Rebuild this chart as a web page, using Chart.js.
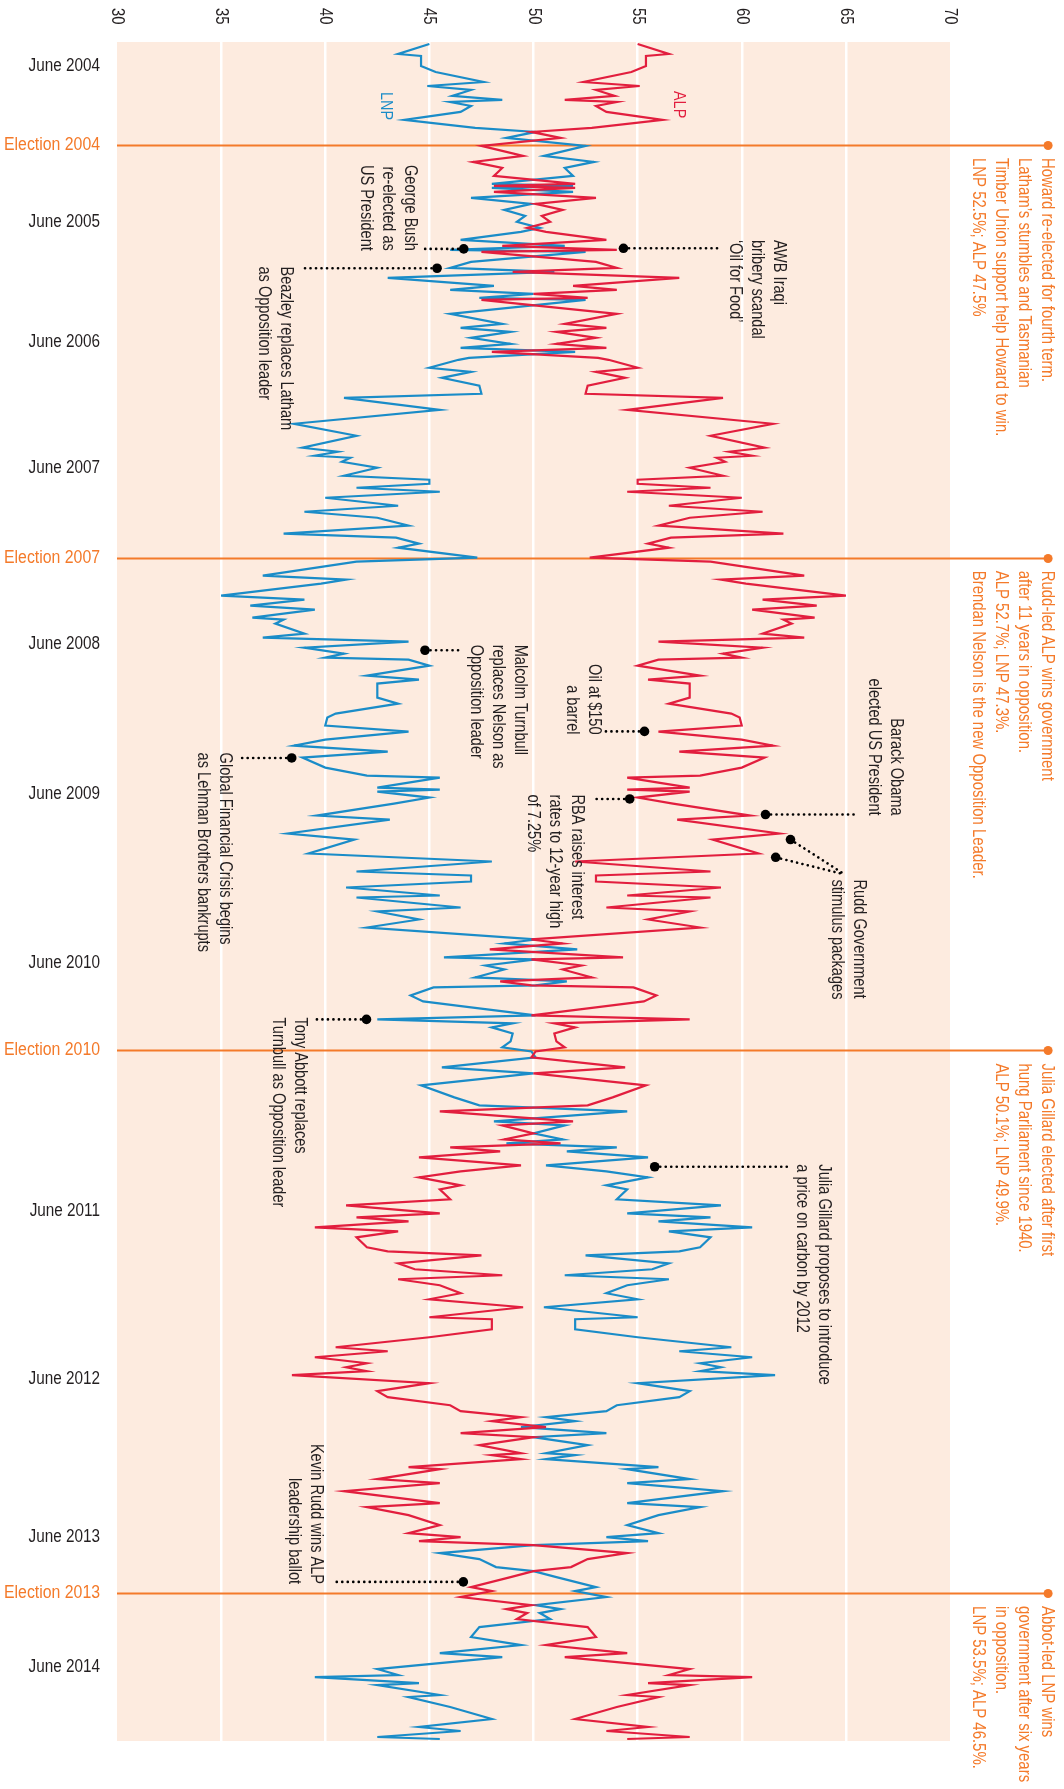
<!DOCTYPE html>
<html>
<head>
<meta charset="utf-8">
<script src="https://cdn.jsdelivr.net/npm/chart.js@4.4.1/dist/chart.umd.min.js"></script>
<style>
    body { margin: 0; background: #fff; }
    #wrap { width: 1064px; height: 1789px; }
</style>
</head>
<body>
<div id="wrap"><canvas id="pollChart" width="1064" height="1789"></canvas></div>

<script>
// two-party preferred vote, one entry per poll; seq = poll sequence number (top to bottom)
const seq = [1,6,7,12,15,20,22,24,27,29, 30,32,35,39,43,45,48,52,57,60, 63,67,71,72,73,75,78,81,84,87,
    90,93,95,99,102,104,105,110,113,115, 118,122,124,126,128,129,133,136,141,143, 145,148,151,153,155,158,159,163,165,168,
    172,176,178,184,191,197,203,205,207,208, 210,213,217,219,221,223,225,228,232,235, 238,242,246,248,251,253,258,260,267,269,
    271,277,279,282,284,288,289,291,296,298, 300,303,306,308,309,312,317,319,321,328, 331,336,338,342,345,349,352,355,358,363,
    367,368,373,374,375,378,381,387,389,396, 399,406,410,415,417,420,423,427,428,433, 435,439,443,449,451,454,458,459,462,464,
    468,470,472,473,477,480,483,487,489,491, 493,496,500,503,505,508,513,516,522,528, 532,535,540,542,546,549,551,553,555,558,
    562,565,568,572,574,579,582,586,588,590, 593,595,598,603,605,607,611,614,617,619, 622,626,629,633,638,639,644,648,653,655,
    658,661,663,665,667,671,675,678,682,685, 688,690,693,696,698,702,706,707,709,713, 714,719,721,725,731,733,737,742,746,748,
    750,752,756,759,763,765,768,773,775,778, 782,784,786,789,793,798,802,806,808,814, 817,818,821,822,827,828,833,839,843,845,
    848,849];

const lnp = [45.0,43.5,44.6,44.6,45.3,47.6,44.9,47.0,46.1,48.5, 46.0,47.0,46.5,43.8,47.2,50.1,48.7,52.5,50.5,52.9, 51.5,51.9,48.0,51.9,48.0,51.9,47.0,49.9,48.6,49.6,
    49.2,50.3,49.4,46.5,51.5,46.0,52.5,47.0,46.0,51.0, 43.0,48.1,46.0,50.0,47.4,52.5,48.8,46.0,48.5,46.5, 48.9,47.0,48.9,46.5,52.0,46.9,46.4,45.0,47.0,45.6,
    47.4,47.5,40.9,45.5,38.5,41.5,38.9,40.6,39.5,41.2, 40.8,42.5,40.9,45.0,45.0,41.5,45.5,40.0,43.5,39.0, 42.5,44.0,38.0,43.4,44.5,43.5,47.3,41.5,37.0,41.0,
    39.8,35.0,39.0,36.4,39.5,36.5,38.0,37.6,39.0,37.0, 44.0,39.0,40.9,40.0,44.0,45.0,42.0,44.5,42.5,42.5, 43.5,40.5,40.1,40.0,44.0,40.0,38.5,43.0,38.9,40.0,
    42.0,45.5,42.5,45.5,42.5,45.0,43.3,39.6,43.1,38.2, 41.4,39.2,48.0,41.5,47.0,47.0,41.0,45.5,41.5,46.5, 42.5,44.5,42.0,50.1,48.6,52.1,45.7,50.1,47.7,48.6,
    47.2,51.6,50.1,45.2,44.1,44.7,47.0,50.1,42.5,49.0, 48.0,49.0,48.9,48.5,49.9,50.1,45.6,50.0,44.6,46.2, 47.4,54.5,48.1,51.5,50.0,51.4,48.7,54.0,51.6,55.5,
    50.6,53.5,55.5,53.5,54.5,54.0,59.0,54.5,58.5,56.0, 60.5,56.5,58.5,58.0,57.0,52.5,56.5,55.7,51.5,56.5, 54.5,53.5,55.0,50.5,55.0,52.0,52.0,55.0,59.5,57.0,
    60.5,58.0,59.0,58.0,61.6,55.0,57.5,57.0,54.0,53.5, 50.6,52.0,49.4,53.5,50.0,52.6,50.6,52.0,50.6,56.0, 54.5,57.5,54.5,59.1,54.5,58.0,56.0,54.5,56.0,53.5,
    55.5,50.0,45.5,47.4,48.2,50.0,51.1,53.0,52.0,53.5, 50.1,51.3,50.3,50.8,47.4,47.0,49.4,45.5,48.5,42.5, 43.5,39.5,44.5,42.5,45.5,44.0,46.0,48.0,44.5,46.5,
    42.5,45.5];

const alp = [55.0,56.5,55.4,55.4,54.7,52.4,55.1,53.0,53.9,51.5, 54.0,53.0,53.5,56.2,52.8,49.9,51.3,47.5,49.5,47.1, 48.5,48.1,52.0,48.1,52.0,48.1,53.0,50.1,51.4,50.4,
    50.8,49.7,50.6,53.5,48.5,54.0,47.5,53.0,54.0,49.0, 57.0,51.9,54.0,50.0,52.6,47.5,51.2,54.0,51.5,53.5, 51.1,53.0,51.1,53.5,48.0,53.1,53.6,55.0,53.0,54.4,
    52.6,52.5,59.1,54.5,61.5,58.5,61.1,59.4,60.5,58.8, 59.2,57.5,59.1,55.0,55.0,58.5,54.5,60.0,56.5,61.0, 57.5,56.0,62.0,56.6,55.5,56.5,52.7,58.5,63.0,59.0,
    60.2,65.0,61.0,63.6,60.5,63.5,62.0,62.4,61.0,63.0, 56.0,61.0,59.1,60.0,56.0,55.0,58.0,55.5,57.5,57.5, 56.5,59.5,59.9,60.0,56.0,60.0,61.5,57.0,61.1,60.0,
    58.0,54.5,57.5,54.5,57.5,55.0,56.7,60.4,56.9,61.8, 58.6,60.8,52.0,58.5,53.0,53.0,59.0,54.5,58.5,53.5, 57.5,55.5,58.0,49.9,51.4,47.9,54.3,49.9,52.3,51.4,
    52.8,48.4,49.9,54.8,55.9,55.3,53.0,49.9,57.5,51.0, 52.0,51.0,51.1,51.5,50.1,49.9,54.4,50.0,55.4,53.8, 52.6,45.5,51.9,48.5,50.0,48.6,51.3,46.0,48.4,44.5,
    49.4,46.5,44.5,46.5,45.5,46.0,41.0,45.5,41.5,44.0, 39.5,43.5,41.5,42.0,43.0,47.5,43.5,44.3,48.5,43.5, 45.5,46.5,45.0,49.5,45.0,48.0,48.0,45.0,40.5,43.0,
    39.5,42.0,41.0,42.0,38.4,45.0,42.5,43.0,46.0,46.5, 49.4,48.0,50.6,46.5,50.0,47.4,49.4,48.0,49.4,44.0, 45.5,42.5,45.5,40.9,45.5,42.0,44.0,45.5,44.0,46.5,
    44.5,50.0,54.5,52.6,51.8,50.0,48.9,47.0,48.0,46.5, 49.9,48.7,49.7,49.2,52.6,53.0,50.6,54.5,51.5,57.5, 56.5,60.5,55.5,57.5,54.5,56.0,54.0,52.0,55.5,53.5,
    57.5,54.5];

// side labels
const markSeq = [12, 51.5, 90, 150, 213, 258, 301, 376, 461, 504.5, 585, 669, 748, 776, 813];
const markLabel = ['June 2004', 'Election 2004', 'June 2005', 'June 2006', 'June 2007', 'Election 2007', 'June 2008',
    'June 2009', 'June 2010', 'Election 2010', 'June 2011', 'June 2012', 'June 2013', 'Election 2013', 'June 2014'];

const electionSeq = [51.5, 258, 504.5, 776];
const electionNotes = [
    ['Howard re-elected for fourth term.', 'Latham\u2019s stumbles and Tasmanian', 'Timber Union support help Howard to win.', 'LNP 52.5%; ALP 47.5%'],
    ['Rudd-led ALP wins government', 'after 11 years in opposition.', 'ALP 52.7%; LNP 47.3%.', 'Brendan Nelson is the new Opposition Leader.'],
    ['Julia Gillard elected after first', 'hung Parliament since 1940.', 'ALP 50.1%; LNP 49.9%.'],
    ['Abbot-led LNP wins', 'government after six years', 'in opposition.', 'LNP 53.5%; ALP 46.5%.']
];

const BLUE = '#1a8cc8';
const RED = '#e21e3e';
const ORANGE = '#f47a2a';
const INK = '#231f20';
const PEACH = '#fdebdf';
const FONT = "'Liberation Sans', Arial, sans-serif";

// event notes, placed in chart units (x = %, y = poll seq)
const notes = [
    { dots: [[46.65, 103.5]], lead: [44.6, 103.5], at: [44.41, 104.5], align: 'right', lines: ['George Bush', 're-elected as', 'US President'] },
    { dots: [[45.37, 113.2]], lead: [38.82, 113.2], at: [38.45, 112.3], align: 'left', lines: ['Beazley replaces Latham', 'as Opposition leader'] },
    { dots: [[54.32, 103.2]], lead: [58.86, 103.2], at: [62.12, 99], align: 'left', lines: ['AWB Iraqi', 'bribery scandal', '\u2018Oil for Food\u2019'] },
    { dots: [[44.79, 304.3]], lead: [46.63, 304.3], at: [49.69, 301.5], align: 'left', lines: ['Malcolm Turnbull', 'replaces Nelson as', 'Opposition leader'] },
    { dots: [[38.39, 358.2]], lead: [35.81, 358.2], at: [35.5, 355.5], align: 'left', lines: ['Global Financial Crisis begins', 'as Lehman Brothers bankrupts'] },
    { dots: [[55.33, 344.9]], lead: [53.39, 344.9], at: [53.24, 346.5], align: 'right', lines: ['Oil at $150', 'a barrel'] },
    { dots: [[61.14, 386.5]], lead: [65.6, 386.5], at: [67.74, 387], align: 'right', lines: ['Barack Obama', 'elected US President'] },
    { dots: [[54.62, 378.7]], lead: [52.9, 378.7], at: [52.42, 376.5], align: 'left', lines: ['RBA raises interest', 'rates to 12-year high', 'of 7.25%'] },
    { dots: [[62.34, 399], [61.63, 407.9]], lead: [64.95, 416.5], at: [65.98, 419], align: 'left', lines: ['Rudd Government', 'stimulus packages'] },
    { dots: [[41.98, 489]], lead: [39.36, 489], at: [39.12, 488], align: 'left', lines: ['Tony Abbott replaces', 'Turnbull as Opposition leader'] },
    { dots: [[55.82, 562.7]], lead: [62.17, 562.7], at: [64.28, 561.5], align: 'left', lines: ['Julia Gillard proposes to introduce', 'a price on carbon by 2012'] },
    { dots: [[46.63, 770.4]], lead: [40.31, 770.4], at: [39.89, 771.5], align: 'right', lines: ['Kevin Rudd wins ALP', 'leadership ballot'] }
];

// narrow look: no condensed face installed, so squeeze along the text direction
function drawTurned(c, lines, x, y, align, lh, sx) {
    c.save();
    c.translate(x, y);
    c.rotate(Math.PI / 2);
    c.scale(sx, 1);
    c.textAlign = align;
    c.textBaseline = 'top';
    lines.forEach((t, i) => c.fillText(t, 0, i * lh));
    c.restore();
}

const backdrop = {
    id: 'backdrop',
    beforeDraw(chart) {
        const { ctx, chartArea: a } = chart;
        ctx.save();
        ctx.fillStyle = PEACH;
        ctx.fillRect(a.left, a.top, a.right - a.left, a.bottom - a.top);
        ctx.restore();
    },
    beforeDatasetsDraw(chart) {
        const { ctx, chartArea: a, scales: { x, y } } = chart;
        ctx.save();
        ctx.strokeStyle = ORANGE;
        ctx.fillStyle = ORANGE;
        ctx.lineWidth = 2;
        electionSeq.forEach(e => {
            const py = Math.round(y.getPixelForValue(e)) + 0.5;
            const end = x.getPixelForValue(74.71);
            ctx.beginPath();
            ctx.moveTo(a.left, py);
            ctx.lineTo(end, py);
            ctx.stroke();
            ctx.beginPath();
            ctx.arc(end, py, 4.5, 0, Math.PI * 2);
            ctx.fill();
        });
        ctx.restore();
    },
    afterDatasetsDraw(chart) {
        const { ctx, chartArea: a, scales: { x, y } } = chart;
        ctx.save();

        // left date / election labels
        ctx.font = '18px ' + FONT;
        ctx.textAlign = 'right';
        ctx.textBaseline = 'middle';
        markSeq.forEach((s, i) => {
            const isElection = markLabel[i].startsWith('Election');
            ctx.save();
            ctx.translate(a.left - 17, y.getPixelForValue(s));
            ctx.scale(isElection ? 0.88 : 0.85, 1);
            ctx.fillStyle = isElection ? ORANGE : INK;
            ctx.fillText(markLabel[i], 0, 0);
            ctx.restore();
        });

        // top axis numbers
        ctx.fillStyle = INK;
        for (let v = 30; v <= 70; v += 5) {
            ctx.save();
            ctx.translate(x.getPixelForValue(v), 8);
            ctx.rotate(Math.PI / 2);
            ctx.scale(0.82, 1);
            ctx.textAlign = 'left';
            ctx.textBaseline = 'middle';
            ctx.fillText(String(v), 0, 0);
            ctx.restore();
        }

        // series names
        ctx.font = '17px ' + FONT;
        ctx.fillStyle = BLUE;
        drawTurned(ctx, ['LNP'], x.getPixelForValue(43.21) + 2, y.getPixelForValue(25), 'left', 22, 0.85);
        ctx.fillStyle = RED;
        drawTurned(ctx, ['ALP'], x.getPixelForValue(57.28) + 2, y.getPixelForValue(24.5), 'left', 22, 0.85);

        // election results
        ctx.font = '18px ' + FONT;
        ctx.fillStyle = ORANGE;
        electionSeq.forEach((e, i) => {
            drawTurned(ctx, electionNotes[i], x.getPixelForValue(75) + 2, y.getPixelForValue(e) + 13, 'left', 23, 0.83);
        });

        // events
        notes.forEach(n => {
            const lx = x.getPixelForValue(n.lead[0]);
            const ly = y.getPixelForValue(n.lead[1]);
            ctx.strokeStyle = '#000';
            ctx.lineWidth = 2.6;
            ctx.lineCap = 'round';
            ctx.setLineDash([0.1, 5.4]);
            n.dots.forEach(d => {
                ctx.beginPath();
                ctx.moveTo(x.getPixelForValue(d[0]), y.getPixelForValue(d[1]));
                ctx.lineTo(lx, ly);
                ctx.stroke();
            });
            ctx.setLineDash([]);
            ctx.fillStyle = '#000';
            n.dots.forEach(d => {
                ctx.beginPath();
                ctx.arc(x.getPixelForValue(d[0]), y.getPixelForValue(d[1]), 4.8, 0, Math.PI * 2);
                ctx.fill();
            });
            ctx.fillStyle = INK;
            ctx.font = '18px ' + FONT;
            drawTurned(ctx, n.lines, x.getPixelForValue(n.at[0]) + 2, y.getPixelForValue(n.at[1]), n.align, 22, 0.81);
        });
        ctx.restore();
    }
};

const ctx = document.getElementById('pollChart').getContext('2d');

const pollChart = new Chart(ctx, {
    type: 'line',
    data: {
        datasets: [{
            label: 'ALP',
            data: seq.map((s, i) => ({ x: alp[i], y: s })),
            borderColor: RED,
            borderWidth: 2.2,
            pointRadius: 0,
            tension: 0
        }, {
            label: 'LNP',
            data: seq.map((s, i) => ({ x: lnp[i], y: s })),
            borderColor: BLUE,
            borderWidth: 2.2,
            pointRadius: 0,
            tension: 0
        }]
    },
    options: {
        indexAxis: 'y',
        responsive: false,
        devicePixelRatio: 1,
        animation: false,
        layout: { padding: { top: 42, right: 114, bottom: 48, left: 0 } },
        scales: {
            x: {
                type: 'linear',
                position: 'top',
                min: 30,
                max: 70,
                ticks: { display: false, stepSize: 5 },
                grid: {
                    drawTicks: false,
                    lineWidth: 2.5,
                    color: c => (c.tick && (c.tick.value === 30 || c.tick.value === 70)) ? 'rgba(0,0,0,0)' : '#ffffff'
                },
                border: { display: false },
                afterFit: s => { s.height = 0; }
            },
            y: {
                type: 'linear',
                reverse: true,
                min: 0,
                max: 850,
                afterBuildTicks: s => { s.ticks = markSeq.map(v => ({ value: v })); },
                ticks: { display: false },
                grid: { display: false },
                border: { display: false },
                afterFit: s => { s.width = 117; }
            }
        },
        plugins: {
            legend: { display: false },
            tooltip: { enabled: false }
        }
    },
    plugins: [backdrop]
});
</script>
</body>
</html>
